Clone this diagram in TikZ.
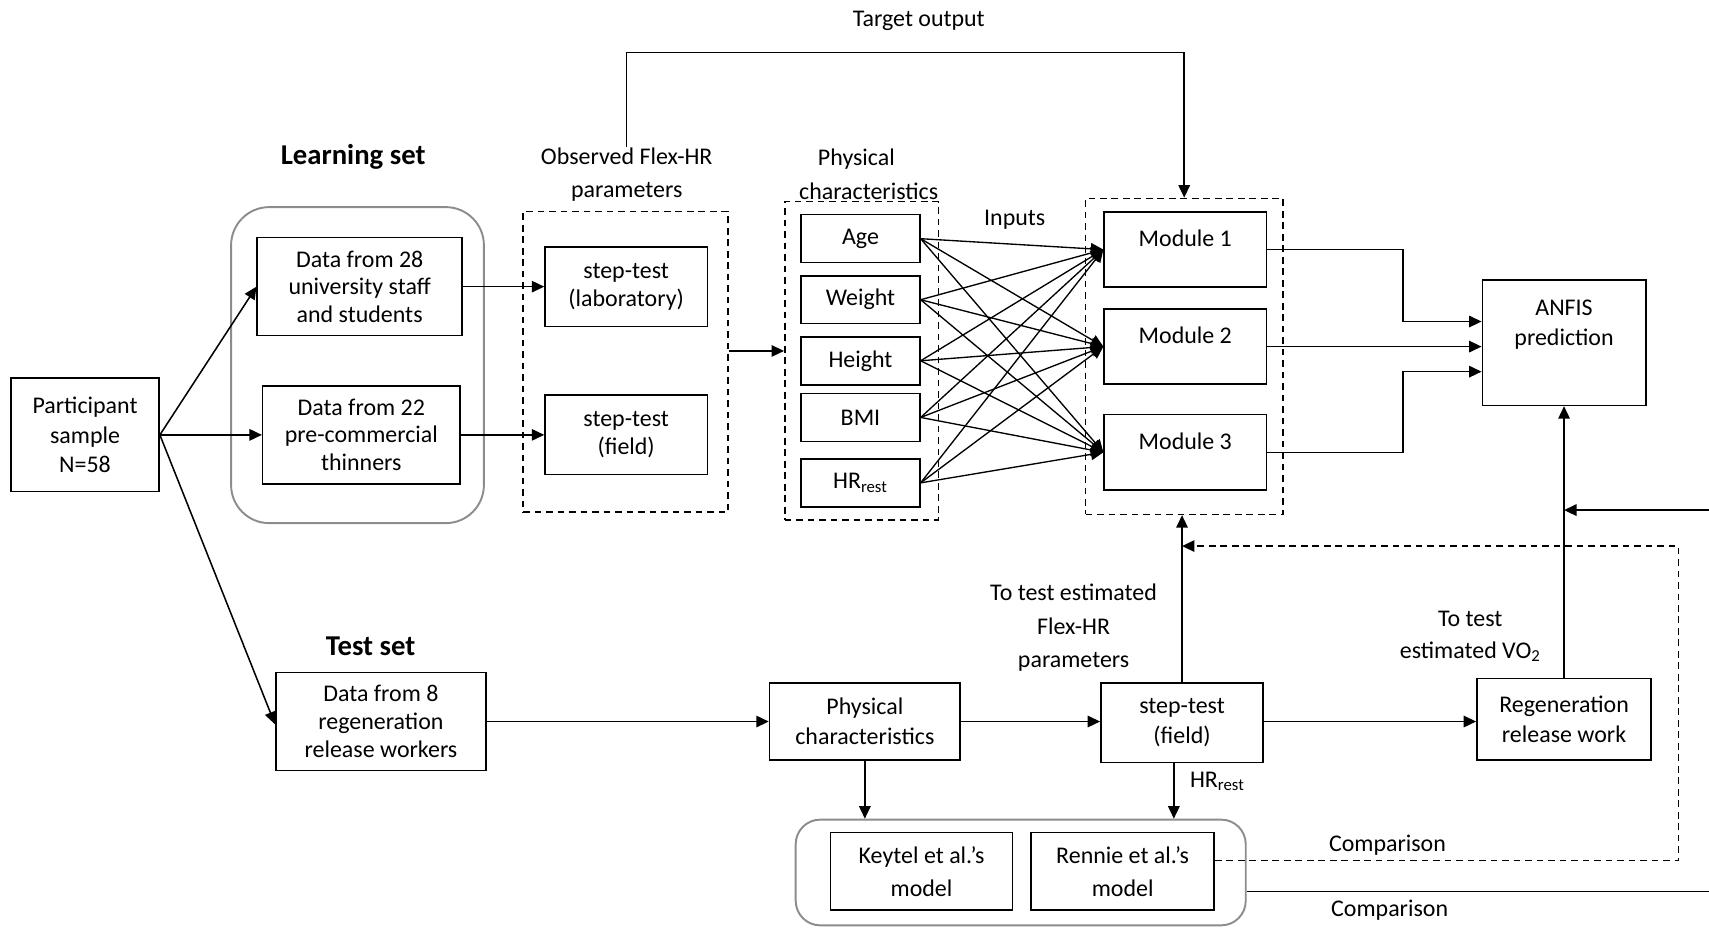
\documentclass[tikz,border=0pt]{standalone}
\usepackage{fontspec}
\setmainfont{Carlito}
\usetikzlibrary{arrows.meta}
\begin{document}
\begin{tikzpicture}[x=0.02cm, y=-0.02cm,
  every node/.style={font=\fontsize{12.5}{14.5}\selectfont, align=center, inner sep=0pt},
  blk/.style={draw, line width=0.8pt},
  grp/.style={draw, line width=0.8pt, dash pattern=on 3.5pt off 2.5pt},
  rgrp/.style={draw=black!45, line width=1pt, rounded corners=0.7cm},
  arr/.style={-{Triangle[length=6.5pt,width=6pt]}, line width=0.8pt},
  ln/.style={line width=0.8pt},
  dln/.style={line width=0.8pt, dash pattern=on 3.5pt off 2.5pt},
  ttl/.style={font=\fontsize{15}{18}\bfseries\selectfont},
  inbox/.style={blk, minimum width=2.18cm, minimum height=0.88cm},
  modbox/.style={blk, minimum width=2.98cm, minimum height=1.38cm}
]
\useasboundingbox (0,0) rectangle (1568,851);

% ---------- learning set ----------
\node[ttl] (ltitle) at (324,144) {Learning set};
\node[rgrp, minimum width=4.64cm, minimum height=5.8cm] (lset) at (328,335) {};
\node[blk, minimum width=2.72cm, minimum height=2.08cm] (part) at (78,399) {Participant\\[1pt] sample\\[1pt] N=58};
\node[blk, minimum width=3.76cm, minimum height=1.8cm] (d28) at (330,263) {Data from 28\\university staff\\and students};
\node[blk, minimum width=3.62cm, minimum height=1.8cm] (d22) at (331.5,399) {Data from 22\\pre-commercial\\thinners};

% ---------- observed Flex-HR parameters ----------
\node (obs) at (575,160) {Observed Flex-HR\\[3pt] parameters};
\node[grp, minimum width=3.76cm, minimum height=5.52cm] (g1) at (574,332) {};
\node[blk, minimum width=2.98cm, minimum height=1.46cm] (slab) at (574.5,263) {step-test\\(laboratory)};
\node[blk, minimum width=2.98cm, minimum height=1.46cm] (sfld) at (574.5,399) {step-test\\(field)};

% ---------- physical characteristics ----------
\node (phys) at (797,160) {Physical\hspace*{0.45cm}\\[3pt] characteristics};
\node[grp, minimum width=2.82cm, minimum height=5.84cm] (g2) at (790.5,331) {};
\node[inbox] (age) at (789.5,219) {Age};
\node[inbox] (wgt) at (789.5,275) {Weight};
\node[inbox] (hgt) at (789.5,331) {Height};
\node[inbox] (bmi) at (789.5,383) {BMI};
\node[inbox] (hrr) at (789.5,443) {HR\textsubscript{rest}};
\node (inputs) at (931,202) {Inputs};

% ---------- ANFIS modules ----------
\node[grp, minimum width=3.62cm, minimum height=5.8cm] (g3) at (1086.5,327) {};
\node[modbox] (m1) at (1087.5,229) {};
\node[modbox] (m2) at (1087.5,318) {};
\node[modbox] (m3) at (1087.5,415) {};
\node[anchor=north] (m1t) at ([yshift=-0.34cm]m1.north) {Module 1};
\node[anchor=north] (m2t) at ([yshift=-0.34cm]m2.north) {Module 2};
\node[anchor=north] (m3t) at ([yshift=-0.34cm]m3.north) {Module 3};

\node[blk, minimum width=3.0cm, minimum height=2.3cm] (anfis) at (1435,314.5) {};
\node[anchor=north] (anfist) at ([yshift=-0.38cm]anfis.north) {ANFIS\\[1pt]prediction};

% ---------- target output ----------
\node (tgt) at (843,19) {Target output};
\coordinate (tgtc) at (843,48);

% ---------- test set ----------
\node[ttl] (ttitle) at (340,593) {Test set};
\node[blk, minimum width=3.86cm, minimum height=1.8cm] (d8) at (349.5,662) {Data from 8\\regeneration\\release workers};
\node[blk, minimum width=3.5cm, minimum height=1.42cm] (phys2) at (793.5,662) {Physical\\[1pt]characteristics};
\node[blk, minimum width=2.98cm, minimum height=1.46cm] (st2) at (1084.5,663) {step-test\\[1pt](field)};
\node[blk, minimum width=3.2cm, minimum height=1.5cm] (regen) at (1435,660) {Regeneration\\[1pt]release work};

\node (tflex) at (985,576) {To test estimated\\[3pt]Flex-HR\\[3pt]parameters};
\node (tvo) at (1349,584) {To test\\[2pt]estimated VO\textsubscript{2}};

% ---------- reference models ----------
\node[rgrp, rounded corners=0.45cm, minimum width=8.26cm, minimum height=1.94cm] (models) at (936.5,800.5) {};
\node[blk, minimum width=3.34cm, minimum height=1.42cm] (keytel) at (845.5,799.5) {Keytel et al.’s\\[3pt]model};
\node[blk, minimum width=3.36cm, minimum height=1.42cm] (rennie) at (1030,799.5) {Rennie et al.’s\\[3pt]model};
\node (hrlab) at (1117,717) {HR\textsubscript{rest}};
\node (cmp1) at (1273,775) {Comparison};
\node (cmp2) at (1275,835) {Comparison};

% ---------- connectors: learning branch ----------
\draw[arr] (part.east) -- (d28.west);
\draw[arr] (part.east) -- (d22.west);
\draw[arr] (part.east) -- ([yshift=-0.05cm]d8.west);
\draw[arr] (d28.east) -- (slab.west);
\draw[arr] (d22.east) -- (sfld.west);
\draw[arr] ([yshift=0.2cm]g1.east) -- ([yshift=0.2cm]g1.east -| g2.west);

% every input feeds every module
\foreach \i in {age,wgt,hgt,bmi,hrr}{
  \foreach \m in {m1,m2,m3}{
    \draw[arr, line width=0.7pt] (\i.east) -- (\m.west);
  }
}

\draw[arr] (obs.north) |- (tgtc) -| (g3.north);

\coordinate (j1) at (1287,295);
\coordinate (j3) at (1287,341);
\draw[arr] (m1.east) -| (j1) -- (j1 -| anfis.west);
\draw[arr] (m2.east) -- (m2.east -| anfis.west);
\draw[arr] (m3.east) -| (j3) -- (j3 -| anfis.west);

% ---------- connectors: test branch ----------
\draw[arr] (d8.east) -- (phys2.west);
\draw[arr] (phys2.east) -- (phys2.east -| st2.west);
\draw[arr] (phys2.east -| st2.east) -- (phys2.east -| regen.west);
\draw[arr] (st2.north) -- (st2.north |- g3.south);
\draw[arr] (regen.north) -- (anfis.south);
\coordinate (rin) at (1568,468);
\draw[arr] (rin) -- (rin -| anfis.south);

\draw[arr] (phys2.south) -- (phys2.south |- models.north);
\draw[arr] ([xshift=-0.15cm]st2.south) -- ([xshift=-0.15cm]st2.south |- models.north);

\coordinate (dcorner) at (1540,501);
\draw[dln, -{Triangle[length=6.5pt,width=6pt]}] ([yshift=0.2cm]rennie.east) -| (dcorner) -- (dcorner -| st2.north);
\coordinate (rout) at (1568,818);
\draw[ln] (rout -| models.east) -- (rout);
\end{tikzpicture}
\end{document}
